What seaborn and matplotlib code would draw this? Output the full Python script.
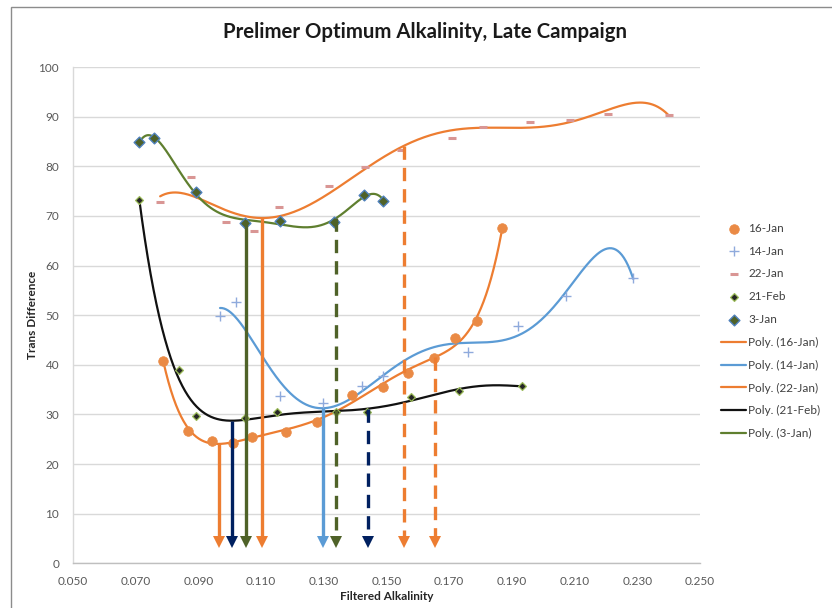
import numpy as np
import pandas as pd
import matplotlib
matplotlib.use("Agg")
import matplotlib.pyplot as plt
from matplotlib.patches import Rectangle
import seaborn as sns

# Measured series: filtered alkalinity vs transmittance difference
x_16jan = [0.0788, 0.0868, 0.0942, 0.1010, 0.1070, 0.1179, 0.1279, 0.1391,
           0.1490, 0.1570, 0.1652, 0.1719, 0.1790, 0.1869]
y_16jan = [40.8, 26.7, 24.7, 24.2, 25.5, 26.5, 28.5, 33.9,
           35.5, 38.4, 41.4, 45.3, 48.8, 67.6]

x_14jan = [0.0969, 0.1019, 0.1160, 0.1296, 0.1421, 0.1490, 0.1759, 0.1918,
           0.2073, 0.2287]
y_14jan = [49.8, 52.7, 33.8, 32.2, 35.7, 37.7, 42.6, 47.9, 53.9, 57.4]

x_22jan = [0.0778, 0.0876, 0.0987, 0.1077, 0.1157, 0.1318, 0.1431, 0.1545,
           0.1708, 0.1807, 0.1958, 0.2085, 0.2206, 0.2402]
y_22jan = [72.7, 77.9, 68.7, 67.0, 71.8, 76.0, 79.8, 83.3,
           85.6, 88.0, 88.9, 89.3, 90.5, 90.3]

x_21feb = [0.0711, 0.0838, 0.0891, 0.1049, 0.1150, 0.1339, 0.1437, 0.1578,
           0.1731, 0.1931]
y_21feb = [73.3, 38.9, 29.7, 29.2, 30.4, 30.5, 30.4, 33.6, 34.8, 35.7]

x_3jan = [0.0711, 0.0758, 0.0891, 0.1049, 0.1160, 0.1333, 0.1428, 0.1490]
y_3jan = [84.9, 85.6, 74.9, 68.5, 69.0, 68.8, 74.2, 73.1]

series_names = ["16-Jan", "14-Jan", "22-Jan", "21-Feb", "3-Jan"]

# Optimum-alkalinity read-offs: x position, source series, solid/dashed
arrow_x = [0.0966, 0.1006, 0.1052, 0.1102, 0.1296, 0.1338, 0.1440, 0.1556, 0.1655]
arrow_series = ["16-Jan", "21-Feb", "3-Jan", "22-Jan", "14-Jan",
                "3-Jan", "21-Feb", "22-Jan", "16-Jan"]
arrow_dashed = [False, False, False, False, False, True, True, True, True]
arrow_tip = 3.0

x_ticks = [0.050, 0.070, 0.090, 0.110, 0.130, 0.150, 0.170, 0.190, 0.210, 0.230, 0.250]
y_ticks = [0, 10, 20, 30, 40, 50, 60, 70, 80, 90, 100]

data = {
    "16-Jan": (x_16jan, y_16jan),
    "14-Jan": (x_14jan, y_14jan),
    "22-Jan": (x_22jan, y_22jan),
    "21-Feb": (x_21feb, y_21feb),
    "3-Jan": (x_3jan, y_3jan),
}

marker_style = {
    "16-Jan": dict(marker="o", s=48, color="#EA8A45", edgecolor="#EA8A45", linewidth=0.5),
    "14-Jan": dict(marker="+", s=60, color="#8FAADC", linewidth=1.0),
    "22-Jan": dict(marker="_", s=28, color="#D99694", linewidth=2.2),
    "21-Feb": dict(marker="D", s=16, color="#262626", edgecolor="#9BBB59", linewidth=0.9),
    "3-Jan": dict(marker="D", s=30, color="#4F6228", edgecolor="#4F81BD", linewidth=1.0),
}
trend_color = {
    "16-Jan": "#ED7D31",
    "14-Jan": "#5B9BD5",
    "22-Jan": "#ED7D31",
    "21-Feb": "#111111",
    "3-Jan": "#5F7F2F",
}
arrow_color = {
    "16-Jan": "#ED7D31",
    "14-Jan": "#5B9BD5",
    "22-Jan": "#ED7D31",
    "21-Feb": "#002060",
    "3-Jan": "#4F6228",
}

sns.set_theme(style="white")
plt.rcParams["font.family"] = ["Lato", "DejaVu Sans"]

fig = plt.figure(figsize=(8.32, 6.08), dpi=100)
ax = fig.add_axes([73 / 832, 1 - 563.3 / 608, (700 - 73) / 832, (563.3 - 67) / 608])

# Sixth-order polynomial trendlines, as in a spreadsheet "Poly" trendline
fits = {}
for name in series_names:
    xs, ys = data[name]
    fits[name] = np.polynomial.Polynomial.fit(xs, ys, 6)

for name in series_names:
    xs, ys = data[name]
    grid = np.linspace(min(xs), max(xs), 400)
    trend = pd.DataFrame({"x": grid, "y": fits[name](grid)})
    sns.lineplot(data=trend, x="x", y="y", ax=ax, color=trend_color[name],
                 linewidth=1.6, label=f"Poly. ({name})", zorder=3)

for name in series_names:
    xs, ys = data[name]
    pts = pd.DataFrame({"x": xs, "y": ys})
    sns.scatterplot(data=pts, x="x", y="y", ax=ax, label=name, zorder=4,
                    **marker_style[name])

# Vertical read-off arrows from each curve down to the axis
for xa, src, dashed in zip(arrow_x, arrow_series, arrow_dashed):
    top = float(fits[src](xa))
    col = arrow_color[src]
    ls = (0, (4, 2.4)) if dashed else "-"
    ax.plot([xa, xa], [top, arrow_tip + 1.6], color=col, linewidth=2.4,
            linestyle=ls, zorder=5, solid_capstyle="butt", dash_capstyle="butt")
    ax.plot([xa], [arrow_tip + 1.3], marker="v", markersize=8, color=col,
            markeredgewidth=0, zorder=6)

ax.set_xlim(0.050, 0.250)
ax.set_ylim(0, 100)
ax.set_xticks(x_ticks)
ax.set_xticklabels([f"{t:.3f}" for t in x_ticks])
ax.set_yticks(y_ticks)
ax.set_yticklabels([str(t) for t in y_ticks])
ax.tick_params(axis="both", length=0, labelsize=8.5, labelcolor="#595959", pad=9)
ax.tick_params(axis="y", pad=10)
ax.yaxis.grid(True, color="#D9D9D9", linewidth=1.0)
ax.xaxis.grid(False)
ax.set_axisbelow(True)
for side in ["top", "right"]:
    ax.spines[side].set_visible(False)
ax.spines["left"].set_color("#D9D9D9")
ax.spines["bottom"].set_color("#BFBFBF")
ax.spines["left"].set_linewidth(1.0)
ax.spines["bottom"].set_linewidth(1.0)

ax.set_xlabel("Filtered Alkalinity", fontsize=8.5, fontweight="bold", color="#262626", labelpad=3)
ax.set_ylabel("Trans Difference", fontsize=8.5, fontweight="bold", color="#262626", labelpad=0)

fig.text(425 / 832, 1 - 32 / 608, "Prelimer Optimum Alkalinity, Late Campaign",
         ha="center", va="center", fontsize=14.7, fontweight="bold", color="#1a1a1a")

handles, labels = ax.get_legend_handles_labels()
lookup = dict(zip(labels, handles))
order = series_names + [f"Poly. ({n})" for n in series_names]
leg = ax.legend([lookup[k] for k in order], order, loc="center left",
                bbox_to_anchor=(1.034, 0.468), frameon=False, fontsize=8.5,
                labelcolor="#404040", handlelength=2.1, handletextpad=0.2,
                labelspacing=1.0, borderaxespad=0.0, borderpad=0.0)

# Chart frame
fig.patches.append(Rectangle((11 / 832, -0.05), 1.2, 1 - 7 / 608 + 0.05,
                             transform=fig.transFigure, fill=False,
                             edgecolor="#8C8C8C", linewidth=1.0))

fig.savefig("out.png", dpi=100)
